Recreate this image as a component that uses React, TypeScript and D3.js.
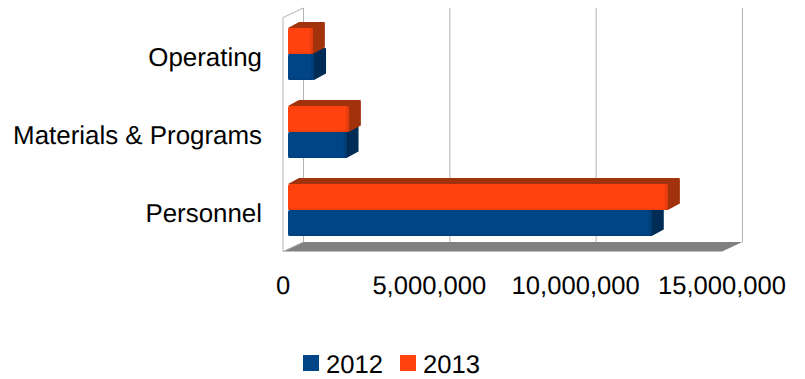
import React from "react";
import * as d3 from "d3";

const categories = ["Operating", "Materials & Programs", "Personnel"];
const values2012 = [890000, 2000000, 12430000];
const values2013 = [850000, 2080000, 12980000];
const axisTicks = [0, 5000000, 10000000, 15000000];
const years = ["2012", "2013"];

const FONT = "'Liberation Sans', Arial, sans-serif";
const WIDTH = 805;
const HEIGHT = 379;

// Oblique projection of the plot box
const front = { left: 283, right: 722, top: 17.5, bottom: 251.5 };
const depth = { dx: 20.5, dy: -9.5 };
const barInset = { dx: 5, dy: -2.5 };
const barDepth = { dx: 12, dy: -6 };

const colors = {
  2012: { face: "#004586", edge: "#003a70", side: "#002c56" },
  2013: { face: "#ff420e", edge: "#d93a0d", side: "#a2320c" },
} as const;

const x = d3.scaleLinear().domain([0, 15000000]).range([front.left, front.right]);
const y = d3
  .scaleBand<string>()
  .domain(categories)
  .range([front.top, front.bottom])
  .paddingInner(1 / 3)
  .paddingOuter(1 / 6);

const fmt = d3.format(",");

function Bar({ value, top, year }: { value: number; top: number; year: "2012" | "2013" }) {
  const h = y.bandwidth() / 2;
  const x0 = x(0) + barInset.dx;
  const x1 = x(value) + barInset.dx;
  const y0 = top + barInset.dy;
  const c = colors[year];
  const { dx, dy } = barDepth;
  const sidePath = d3.path();
  sidePath.moveTo(x0, y0);
  sidePath.lineTo(x0 + dx - 1, y0 + dy);
  sidePath.lineTo(x1 + dx - 1, y0 + dy);
  sidePath.quadraticCurveTo(x1 + dx, y0 + dy, x1 + dx, y0 + dy + 1);
  sidePath.lineTo(x1 + dx, y0 + h + dy - 1);
  sidePath.quadraticCurveTo(x1 + dx, y0 + h + dy, x1 + dx - 1, y0 + h + dy);
  sidePath.lineTo(x1, y0 + h);
  sidePath.closePath();
  return (
    <g>
      <path d={sidePath.toString()} fill={c.side} />
      <rect x={x0} y={y0} width={x1 - x0} height={h} rx={2} fill={c.face} />
      <rect x={x1 - 3} y={y0 + 0.5} width={3} height={h - 1} fill={c.edge} opacity={0.6} />
      <rect x={x0} y={y0 + h - 1.5} width={x1 - x0} height={1.5} fill={c.edge} opacity={0.4} />
    </g>
  );
}

export default function App() {
  return (
    <svg
      width={WIDTH}
      height={HEIGHT}
      viewBox={`0 0 ${WIDTH} ${HEIGHT}`}
      style={{ position: "absolute", left: 0, top: 0, background: "#fff" }}
      fontFamily={FONT}
      textRendering="geometricPrecision"
    >
      {/* floor */}
      <polygon
        points={[
          [front.left, front.bottom],
          [front.left + depth.dx, front.bottom + depth.dy],
          [front.right + depth.dx, front.bottom + depth.dy],
          [front.right, front.bottom],
        ].join(" ")}
        fill="#808080"
      />
      {/* side wall outline */}
      <polyline
        points={[
          [front.left, front.bottom],
          [front.left, front.top],
          [front.left + depth.dx, front.top + depth.dy],
        ].join(" ")}
        fill="none"
        stroke="#b3b3b3"
        strokeWidth={1}
      />
      <line
        x1={front.left}
        y1={front.bottom}
        x2={front.left + depth.dx}
        y2={front.bottom + depth.dy}
        stroke="#b3b3b3"
      />
      {/* gridlines on the back wall */}
      {axisTicks.map((t) => (
        <line
          key={t}
          x1={x(t) + depth.dx}
          x2={x(t) + depth.dx}
          y1={front.top + depth.dy}
          y2={front.bottom + depth.dy}
          stroke="#b3b3b3"
          strokeWidth={1}
        />
      ))}
      {/* bars, drawn back to front */}
      {categories.map((cat, i) => {
        const top = y(cat) as number;
        return (
          <g key={cat}>
            <Bar value={values2012[i]} top={top + y.bandwidth() / 2} year="2012" />
            <Bar value={values2013[i]} top={top} year="2013" />
          </g>
        );
      })}
      {/* category labels */}
      {categories.map((cat) => (
        <text
          key={cat}
          x={262}
          y={(y(cat) as number) + y.bandwidth() / 2 + barInset.dy + 12}
          textAnchor="end"
          fontSize={25.9}
          style={{ fontKerning: "none" }}
          fill="#000"
        >
          {cat}
        </text>
      ))}
      {/* value axis labels */}
      {axisTicks.map((t) => (
        <text key={t} x={x(t)} y={294} textAnchor="middle" fontSize={25.6} fill="#000">
          {fmt(t)}
        </text>
      ))}
      {/* legend */}
      {years.map((yr, i) => (
        <g key={yr} transform={`translate(${303 + i * 97},0)`}>
          <rect x={0} y={355} width={16} height={16} fill={colors[yr as "2012" | "2013"].face} />
          <text x={23} y={373} fontSize={25.6} fill="#000">
            {yr}
          </text>
        </g>
      ))}
    </svg>
  );
}
